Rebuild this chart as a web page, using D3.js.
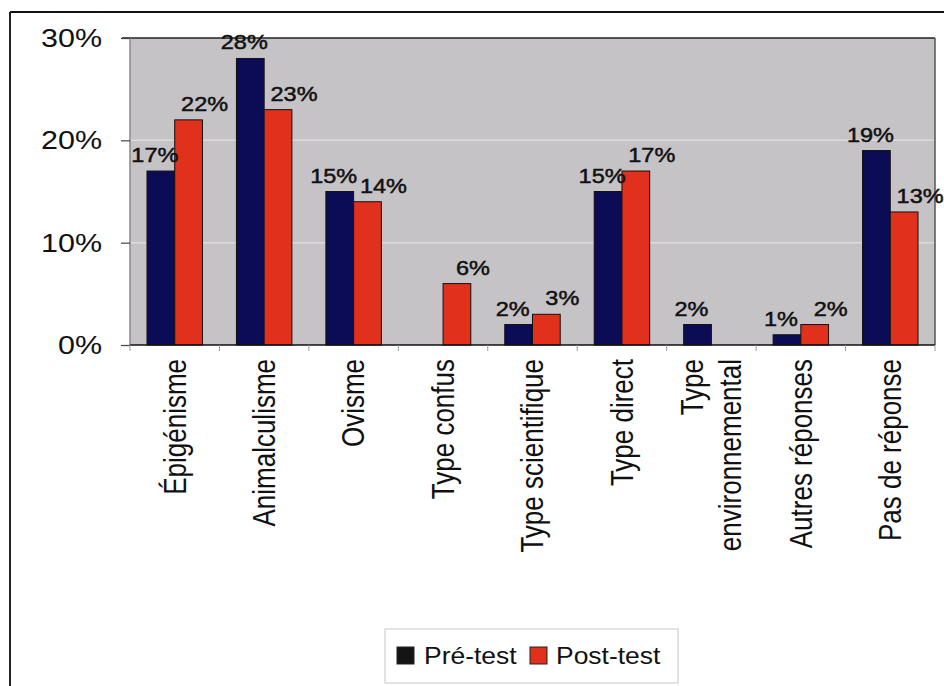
<!DOCTYPE html>
<html>
<head>
<meta charset="utf-8">
<script src="https://cdn.jsdelivr.net/npm/d3@7"></script>
<style>
  html, body { margin: 0; padding: 0; background: #ffffff; }
  svg { display: block; }
  text { font-family: "Liberation Sans", Arial, Helvetica, sans-serif; fill: #111; }
</style>
</head>
<body>
<svg id="chart" width="944" height="686"></svg>
<script>
// Answer categories (multi-line labels split on "\n")
const categories = [
  "Épigénisme", "Animalculisme", "Ovisme", "Type confus", "Type scientifique",
  "Type direct", "Type\nenvironnemental", "Autres réponses", "Pas de réponse"
];
const seriesNames = ["Pré-test", "Post-test"];
const preTest  = [0.17, 0.28, 0.15, 0.00, 0.02, 0.15, 0.02, 0.01, 0.19];
const postTest = [0.22, 0.23, 0.14, 0.06, 0.03, 0.17, 0.00, 0.02, 0.13];
const yTicks = [0, 0.1, 0.2, 0.3];

const colors = { "Pré-test": "#0c0c56", "Post-test": "#e1301c" };

const svg = d3.select("#chart");
const W = 944, H = 686;
const plot = { left: 130, right: 935, top: 38, bottom: 345 };

// Text in this chart is drawn slightly wide; sx widens glyphs horizontally
function wideText(parent, x, y, str, size, sx, opts = {}) {
  const g = parent.append("g")
    .attr("transform", `translate(${x},${y}) scale(${sx},1)` + (opts.rotate ? ` rotate(${opts.rotate})` : ""));
  const t = g.append("text")
    .attr("font-size", size)
    .attr("text-anchor", opts.anchor || "start")
    .attr("dominant-baseline", opts.baseline || "auto");
  if (opts.bold) t.attr("stroke", "#111").attr("stroke-width", opts.bold);
  const lines = str.split("\n");
  lines.forEach((ln, i) => {
    t.append("tspan")
      .attr("x", 0)
      .attr("dy", i === 0 ? (opts.firstDy || 0) : (opts.lineHeight || size * 1.2))
      .text(ln);
  });
  return g;
}

// Outer frame (top and left rules)
svg.append("line").attr("x1", 10).attr("x2", W).attr("y1", 12).attr("y2", 12)
  .attr("stroke", "#111").attr("stroke-width", 2);
svg.append("line").attr("x1", 10).attr("x2", 10).attr("y1", 12).attr("y2", H)
  .attr("stroke", "#222").attr("stroke-width", 2);

// Scales
const x = d3.scaleBand().domain(categories).range([plot.left, plot.right]).padding(0);
const xs = d3.scaleBand().domain(seriesNames)
  .range([x.bandwidth() * 0.19, x.bandwidth() * 0.81]).padding(0);
const y = d3.scaleLinear().domain([0, 0.3]).range([plot.bottom, plot.top]);

// Plot background
svg.append("rect")
  .attr("x", plot.left).attr("y", plot.top)
  .attr("width", plot.right - plot.left).attr("height", plot.bottom - plot.top)
  .attr("fill", "#c6c3c7");

// Gridlines
svg.append("g").selectAll("line")
  .data(yTicks.filter(d => d > 0 && d < 0.3))
  .join("line")
  .attr("x1", plot.left).attr("x2", plot.right)
  .attr("y1", d => y(d)).attr("y2", d => y(d))
  .attr("stroke", "#dddbde").attr("stroke-width", 1.5);

// Plot border: dark top, grey sides
svg.append("line").attr("x1", plot.left - 8).attr("x2", plot.right)
  .attr("y1", plot.top).attr("y2", plot.top).attr("stroke", "#222").attr("stroke-width", 1.5);
svg.append("line").attr("x1", plot.right).attr("x2", plot.right)
  .attr("y1", plot.top).attr("y2", plot.bottom).attr("stroke", "#555").attr("stroke-width", 1.5);
svg.append("line").attr("x1", plot.left).attr("x2", plot.left)
  .attr("y1", plot.top).attr("y2", plot.bottom).attr("stroke", "#8a888c").attr("stroke-width", 1.5);

// Bars
const rows = categories.map((c, i) => ({ cat: c, values: [
  { series: "Pré-test", value: preTest[i] },
  { series: "Post-test", value: postTest[i] }
]}));

const groups = svg.append("g").selectAll("g")
  .data(rows).join("g")
  .attr("transform", d => `translate(${x(d.cat)},0)`);

groups.selectAll("rect")
  .data(d => d.values.filter(v => v.value > 0))
  .join("rect")
  .attr("x", d => xs(d.series))
  .attr("y", d => y(d.value))
  .attr("width", xs.bandwidth())
  .attr("height", d => y(0) - y(d.value))
  .attr("fill", d => colors[d.series])
  .attr("stroke", "#111").attr("stroke-width", 1);

// Value labels above bars; pre-test labels lean left, post-test labels lean right
const pct = d3.format(".0%");
const labelShift = { "Pré-test": -6, "Post-test": 16 };
rows.forEach(r => {
  r.values.filter(v => v.value > 0).forEach(v => {
    const cx = x(r.cat) + xs(v.series) + xs.bandwidth() / 2 + labelShift[v.series];
    wideText(svg, cx, y(v.value) - 9, pct(v.value), 21, 1.12, { anchor: "middle", bold: 0.5 });
  });
});

// Y axis
const yAxis = svg.append("g")
  .attr("transform", `translate(${plot.left},0)`)
  .call(d3.axisLeft(y).tickValues(yTicks).tickFormat(() => "").tickSize(9));
yAxis.select(".domain").remove();
yAxis.selectAll(".tick line").attr("stroke", "#444").attr("stroke-width", 1.2);
yTicks.forEach(t => {
  wideText(svg, plot.left - 28, y(t), pct(t), 25, 1.22, { anchor: "end", baseline: "central" });
});

// X axis: baseline and category boundary ticks
svg.append("line").attr("x1", plot.left).attr("x2", plot.right)
  .attr("y1", plot.bottom).attr("y2", plot.bottom).attr("stroke", "#111").attr("stroke-width", 1.5);
const bounds = categories.map(c => x(c)).concat([x(categories[categories.length - 1]) + x.bandwidth()]);
svg.append("g").selectAll("line")
  .data(bounds).join("line")
  .attr("x1", d => d).attr("x2", d => d)
  .attr("y1", plot.bottom).attr("y2", plot.bottom + 6)
  .attr("stroke", "#999").attr("stroke-width", 1);

// Category labels, rotated
categories.forEach(c => {
  const lines = c.split("\n").length;
  const lh = 32;
  const cx = x(c) + x.bandwidth() / 2;
  // centre the block of lines on the category
  wideText(svg, cx, plot.bottom + 14, c, 26, 1.2, {
    rotate: -90, anchor: "end",
    firstDy: 9 - (lines - 1) * lh / 2,
    lineHeight: lh
  });
});

// Legend
const lg = svg.append("g");
lg.append("rect").attr("x", 385).attr("y", 629).attr("width", 293).attr("height", 54)
  .attr("fill", "#fff").attr("stroke", "#c8c8c8").attr("stroke-width", 1);
const legendItems = [
  { name: "Pré-test", fill: "#141414", sx: 397, tx: 424 },
  { name: "Post-test", fill: "#e1301c", sx: 530, tx: 556 }
];
legendItems.forEach(it => {
  lg.append("rect").attr("x", it.sx).attr("y", 647).attr("width", 17).attr("height", 17)
    .attr("fill", it.fill).attr("stroke", "#222").attr("stroke-width", 1);
  wideText(lg, it.tx, 664, it.name, 23, 1.15, { anchor: "start" });
});
</script>
</body>
</html>
